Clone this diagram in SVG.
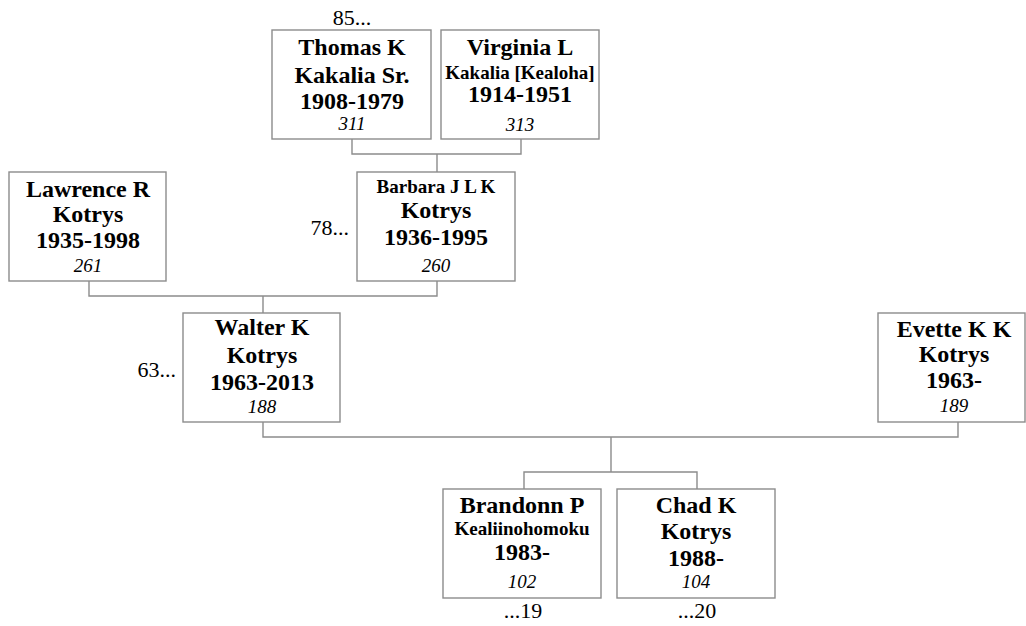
<svg xmlns="http://www.w3.org/2000/svg" width="1026" height="626" viewBox="0 0 1026 626">
<style>
rect.box{fill:#fff;stroke:#8c8c8c;stroke-width:1.4}
.conn path{fill:none;stroke:#8c8c8c;stroke-width:1.4}
text{font-family:"Liberation Serif","Times New Roman",serif;fill:#000;text-anchor:middle}
.n{font-weight:bold;font-size:24px}
.s{font-weight:bold;font-size:19px}
.id{font-style:italic;font-size:19px}
.g{font-size:22px}
</style>
<rect width="1026" height="626" fill="#fff"/>
<g class="conn">
<path d="M352,139V154H521V139M437,154V172"/>
<path d="M89,281V296H437V281M263,296V313"/>
<path d="M263,422V437H958V422M611,437V472"/>
<path d="M524,489V472H697V489"/>
</g>
<g id="thomas">
<rect class="box" x="272" y="30" width="159" height="109"/>
<text class="g" x="352" y="25">85...</text>
<text class="n" x="352" y="55">Thomas K</text>
<text class="n" x="352" y="83">Kakalia Sr.</text>
<text class="n" x="352" y="109">1908-1979</text>
<text class="id" x="352" y="130">311</text>
</g>
<g id="virginia">
<rect class="box" x="441" y="30" width="158" height="109"/>
<text class="n" x="520" y="55">Virginia L</text>
<text class="s" x="520" y="79">Kakalia [Kealoha]</text>
<text class="n" x="520" y="102">1914-1951</text>
<text class="id" x="520" y="131">313</text>
</g>
<g id="lawrence">
<rect class="box" x="9" y="172" width="157" height="109"/>
<text class="n" x="88" y="197">Lawrence R</text>
<text class="n" x="88" y="222">Kotrys</text>
<text class="n" x="88" y="248">1935-1998</text>
<text class="id" x="88" y="272">261</text>
</g>
<g id="barbara">
<rect class="box" x="357" y="172" width="158" height="109"/>
<text class="g" x="349" y="235" style="text-anchor:end">78...</text>
<text class="s" x="436" y="193">Barbara J L K</text>
<text class="n" x="436" y="218">Kotrys</text>
<text class="n" x="436" y="245">1936-1995</text>
<text class="id" x="436" y="272">260</text>
</g>
<g id="walter">
<rect class="box" x="183" y="313" width="157" height="109"/>
<text class="g" x="176" y="377" style="text-anchor:end">63...</text>
<text class="n" x="262" y="335">Walter K</text>
<text class="n" x="262" y="363">Kotrys</text>
<text class="n" x="262" y="390">1963-2013</text>
<text class="id" x="262" y="413">188</text>
</g>
<g id="evette">
<rect class="box" x="878" y="313" width="147" height="109"/>
<text class="n" x="954" y="337">Evette K K</text>
<text class="n" x="954" y="362">Kotrys</text>
<text class="n" x="954" y="388">1963-</text>
<text class="id" x="954" y="412">189</text>
</g>
<g id="brandonn">
<rect class="box" x="443" y="489" width="158" height="109"/>
<text class="n" x="522" y="513">Brandonn P</text>
<text class="s" x="522" y="535">Kealiinohomoku</text>
<text class="n" x="522" y="560">1983-</text>
<text class="id" x="522" y="588">102</text>
<text class="g" x="523" y="618">...19</text>
</g>
<g id="chad">
<rect class="box" x="617" y="489" width="158" height="109"/>
<text class="n" x="696" y="513">Chad K</text>
<text class="n" x="696" y="539">Kotrys</text>
<text class="n" x="696" y="566">1988-</text>
<text class="id" x="696" y="588">104</text>
<text class="g" x="697" y="618">...20</text>
</g>
</svg>
